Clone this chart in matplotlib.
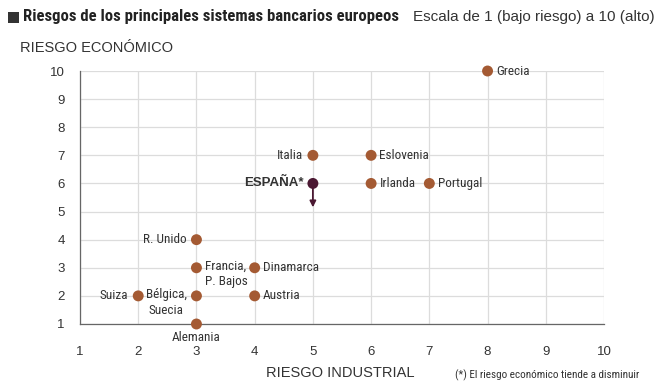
import matplotlib
matplotlib.use("Agg")
import matplotlib.pyplot as plt
from matplotlib.patches import Rectangle

COND = ['Roboto Condensed', 'DejaVu Sans']
REG = ['Liberation Sans', 'DejaVu Sans']
plt.rcParams['font.family'] = COND

countries = ["Grecia", "Italia", "Eslovenia", "ESPAÑA*", "Irlanda", "Portugal",
             "R. Unido", "Francia,\nP. Bajos", "Dinamarca", "Suiza", "Bélgica,\nSuecia",
             "Austria", "Alemania"]
industrial = [8, 5, 6, 5, 6, 7, 3, 3, 4, 2, 3, 4, 3]
economico = [10, 7, 7, 6, 6, 6, 4, 3, 3, 2, 2, 2, 1]
label_side = ["right", "left", "right", "left", "right", "right",
              "left", "right", "right", "left", "left", "right", "below"]
ticks = [1, 2, 3, 4, 5, 6, 7, 8, 9, 10]

brown = "#A45A33"
purple = "#4B1832"
txtcol = "#333333"

fig = plt.figure(figsize=(6.64, 3.91), dpi=100)
ax = fig.add_axes([80/664, 1-324/391, (604-80)/664, (324-71)/391])
ax.set_xlim(1, 10)
ax.set_ylim(1, 10)
ax.set_xticks(ticks)
ax.set_yticks(ticks)
ax.grid(True, color="#dcdcdc", linewidth=0.9)
ax.set_axisbelow(True)
for s in ["top", "right"]:
    ax.spines[s].set_visible(False)
for s in ["left", "bottom"]:
    ax.spines[s].set_color("#666666")
    ax.spines[s].set_linewidth(0.9)
ax.tick_params(axis="y", length=0, labelsize=9.5, colors=txtcol, pad=11)
ax.tick_params(axis="x", length=0, labelsize=9.5, colors=txtcol, pad=16)
for lab in ax.get_xticklabels() + ax.get_yticklabels():
    lab.set_family(REG)

for name, x, y, side in zip(countries, industrial, economico, label_side):
    is_es = name.startswith("ESPA")
    col = purple if is_es else brown
    if is_es:
        ax.annotate("", xy=(x, y - 0.85), xytext=(x, y),
                    arrowprops=dict(arrowstyle="-|>", color=purple, lw=1.3,
                                    mutation_scale=9, shrinkA=0, shrinkB=0),
                    zorder=3)
    ax.scatter([x], [y], s=62, color=col, zorder=4, clip_on=False, edgecolors='none')
    kw = dict(fontsize=9.5, color=txtcol, zorder=5, annotation_clip=False)
    if is_es:
        kw.update(fontweight="bold", family=REG, fontsize=9.5)
    multi = "\n" in name
    if side == "right":
        if multi:
            ax.annotate(name, (x, y), xytext=(6, 6), textcoords="offset points",
                        ha="left", va="top", linespacing=1.3, **kw)
        else:
            ax.annotate(name, (x, y), xytext=(6, 0), textcoords="offset points",
                        ha="left", va="center", **kw)
    elif side == "left":
        if multi:
            ax.annotate(name, (x, y), xytext=(-7, 6), textcoords="offset points",
                        ha="right", va="top", linespacing=1.3, multialignment="center", **kw)
        else:
            ax.annotate(name, (x, y), xytext=(-7, 0), textcoords="offset points",
                        ha="right", va="center", **kw)
    else:
        ax.annotate(name, (x, y), xytext=(0, -5), textcoords="offset points",
                    ha="center", va="top", **kw)

fig.patches.append(Rectangle((8/664, 1-23/391), 11/664, 11/391, transform=fig.transFigure,
                             facecolor="#333333", edgecolor="none", figure=fig))
fig.text(23/664, 1-17/391, "Riesgos de los principales sistemas bancarios europeos",
         fontsize=12, fontweight="bold", color="#222222", va="center", ha="left")
fig.text(413/664, 1-17/391, "Escala de 1 (bajo riesgo) a 10 (alto)",
         fontsize=11, color=txtcol, va="center", ha="left", family=REG)
fig.text(20/664, 1-48/391, "RIESGO ECONÓMICO", fontsize=10.5, color=txtcol,
         va="center", ha="left", family=REG)
fig.text(340/664, 1-373/391, "RIESGO INDUSTRIAL", fontsize=10.5, color=txtcol,
         va="center", ha="center", family=REG)
fig.text(455/664, 1-375/391, "(*) El riesgo económico tiende a disminuir", fontsize=8,
         color=txtcol, va="center", ha="left")

fig.savefig("out.png", dpi=100, facecolor="white")
